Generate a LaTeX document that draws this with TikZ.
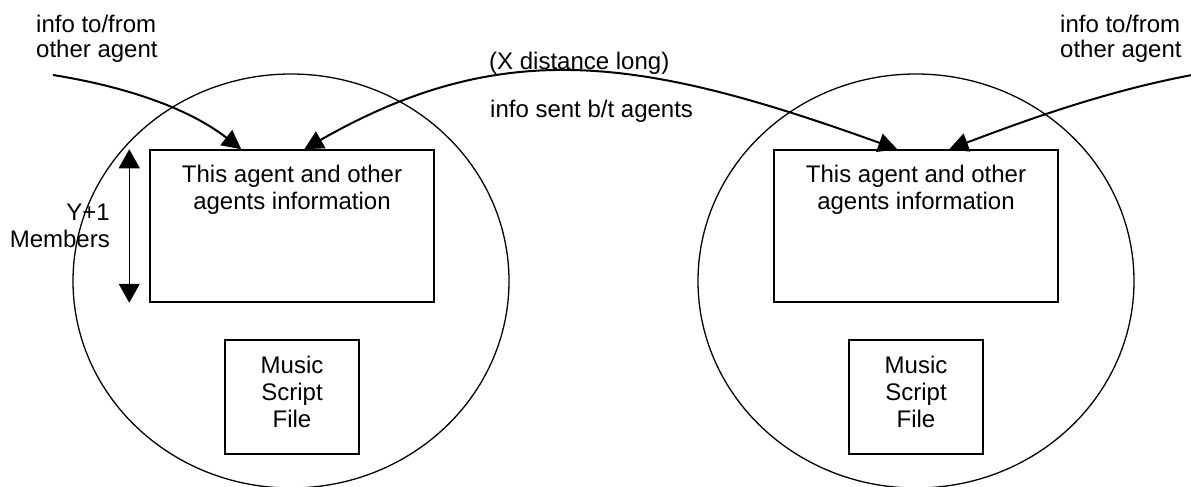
\documentclass[tikz,border=0pt]{standalone}
\usepackage{fontspec}
\setmainfont{Liberation Sans}
\usetikzlibrary{arrows.meta}
\begin{document}
\begin{tikzpicture}[x=1pt,y=-1pt,
  agent/.style={draw,line width=1.3pt},
  infobox/.style={draw,line width=1.5pt,minimum width=284pt,minimum height=152pt,inner sep=0pt},
  filebox/.style={draw,line width=1.5pt,minimum width=134pt,minimum height=114pt,inner sep=0pt},
  lbl/.style={inner sep=0pt,font=\fontsize{24}{25}\selectfont},
  boxtext/.style={inner sep=0pt,align=center,font=\fontsize{24}{27}\selectfont},
  tip/.style={Triangle[length=19pt,width=19pt]},
  flow/.style={line width=2pt,-{Triangle[length=19pt,width=19pt]}},
  flowboth/.style={line width=2pt,{Triangle[length=19pt,width=19pt]}-{Triangle[length=19pt,width=19pt]}},
  spanarrow/.style={line width=1.3pt,{Triangle[length=19pt,width=21pt]}-{Triangle[length=19pt,width=21pt]}}]
\useasboundingbox (0,0) rectangle (1191,487);

% the two agents
\coordinate (agentL) at (291,281);
\coordinate (agentR) at (916,281);
\draw[agent] (agentL) ellipse [x radius=218, y radius=207];
\draw[agent] (agentR) ellipse [x radius=218, y radius=207];

% information stores
\node[infobox] (infoL) at (292,226) {};
\node[infobox] (infoR) at (916,226) {};
\node[boxtext,anchor=north,yshift=-16pt] (infoLtext) at (infoL.north) {This agent and other\\agents information};
\node[boxtext,anchor=north,yshift=-16pt] (infoRtext) at (infoR.north) {This agent and other\\agents information};

% script files
\node[filebox] (fileL) at (292,397) {};
\node[filebox] (fileR) at (916,397) {};
\node[boxtext,anchor=north,yshift=-17pt] (fileLtext) at (fileL.north) {Music\\Script\\File};
\node[boxtext,anchor=north,yshift=-17pt] (fileRtext) at (fileR.north) {Music\\Script\\File};

% labels
\node[lbl,anchor=north west,align=left] (srcL) at (36,15) {info to/from\\other agent};
\node[lbl,anchor=north west,align=left] (srcR) at (1060,15) {info to/from\\other agent};
\node[lbl,anchor=north west] (dist) at (489,52) {(X distance long)};
\node[lbl,anchor=north west] (sent) at (490,100) {info sent b/t agents};
\node[lbl,anchor=north east,align=right,font=\fontsize{24}{27}\selectfont] (members) at (110,204) {Y+1\\Members};

% size of the information store
\draw[spanarrow] ([xshift=-20pt]infoL.north west) -- ([xshift=-20pt]infoL.south west);

% information flows
\coordinate (inL) at (53,75);
\coordinate (inR) at (1192,75);
\draw[flow] (inL) .. controls (122,86) and (187,107) .. ([xshift=92pt]infoL.north west);
\draw[flowboth] ([xshift=155pt]infoL.north west) .. controls (504,35) and (644,58) .. ([xshift=124pt]infoR.north west);
\draw[flow] (inR) .. controls (1107,91) and (1029,119) .. ([xshift=176pt]infoR.north west);
\end{tikzpicture}
\end{document}
